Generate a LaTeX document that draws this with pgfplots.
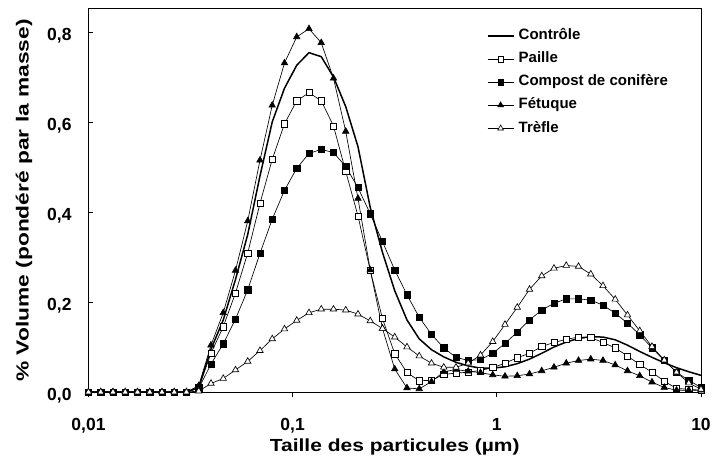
\documentclass[border=0pt]{standalone}
\usepackage{fontspec}
\setmainfont{Liberation Sans}
\usepackage{pgfplots}
\usepackage{pgfplotstable}
\pgfplotsset{compat=1.18}

% distribution granulometrique, % volume par classe de taille
\pgfplotstableread{
x        ctrl  paille compost fetuque trefle
0.01     0     0      0       0       0
0.011482 0     0      0       0       0
0.013183 0     0      0       0       0
0.015136 0     0      0       0       0
0.017378 0     0      0       0       0
0.019953 0     0      0       0       0
0.022909 0     0      0       0       0
0.026303 0     0      0       0       0
0.030200 0     0      0       0       0
0.034674 0.010 0.010  0.008   0.014   0.002
0.039811 0.095 0.086  0.062   0.104   0.019
0.045709 0.160 0.145  0.107   0.176   0.030
0.052481 0.250 0.220  0.162   0.270   0.049
0.060256 0.350 0.309  0.227   0.380   0.068
0.069183 0.480 0.419  0.308   0.515   0.092
0.079433 0.600 0.517  0.384   0.637   0.118
0.091201 0.675 0.596  0.448   0.731   0.140
0.10471  0.726 0.647  0.497   0.789   0.159
0.12023  0.754 0.665  0.530   0.807   0.176
0.13804  0.745 0.647  0.539   0.776   0.184
0.15849  0.700 0.591  0.532   0.697   0.184
0.18197  0.634 0.490  0.501   0.579   0.182
0.20893  0.545 0.391  0.454   0.430   0.173
0.23988  0.410 0.270  0.396   0.271   0.158
0.27542  0.310 0.163  0.334   0.141   0.141
0.31623  0.225 0.085  0.271   0.051   0.122
0.36308  0.160 0.043  0.216   0.009   0.100
0.41687  0.118 0.025  0.166   0.007   0.080
0.47863  0.094 0.026  0.128   0.023   0.064
0.54954  0.078 0.039  0.098   0.045   0.055
0.63096  0.066 0.042  0.077   0.050   0.055
0.72444  0.058 0.044  0.070   0.046   0.064
0.83176  0.053 0.048  0.072   0.043   0.082
0.95499  0.053 0.054  0.086   0.038   0.112
1.0965   0.056 0.064  0.108   0.035   0.150
1.2589   0.063 0.076  0.133   0.036   0.188
1.4454   0.073 0.086  0.160   0.040   0.228
1.6596   0.086 0.101  0.182   0.047   0.258
1.9055   0.100 0.110  0.197   0.055   0.275
2.1878   0.111 0.117  0.207   0.064   0.281
2.5119   0.119 0.122  0.207   0.070   0.279
2.8840   0.123 0.121  0.204   0.073   0.262
3.3113   0.122 0.110  0.193   0.070   0.236
3.8019   0.116 0.098  0.175   0.060   0.206
4.3652   0.104 0.080  0.153   0.047   0.171
5.0119   0.090 0.061  0.127   0.036   0.136
5.7544   0.077 0.044  0.098   0.022   0.101
6.6069   0.065 0.024  0.070   0.010   0.071
7.5858   0.054 0.008  0.044   0.004   0.044
8.7096   0.045 0.006  0.026   0.004   0.020
10       0.037 0.004  0.010   0.004   0.006
}\granulo

\tikzset{
  thinser/.style={black, line width=0.65bp, mark options={line width=0.65bp}}
}

\begin{document}
\begin{tikzpicture}
  \path[use as bounding box] (-88.5bp,-67bp) rectangle (623.5bp,392bp);
  \begin{axis}[
    scale only axis,
    width=612.5bp, height=383bp,
    at={(0,0)}, anchor=south west,
    xmode=log, xmin=0.01, xmax=10,
    ymin=0, ymax=0.851,
    xtick={0.01,0.1,1,10},
    xticklabels={{0,01},{0,1},1,10},
    ytick={0,0.2,0.4,0.6,0.8},
    yticklabels={{0,0},{0,2},{0,4},{0,6},{0,8}},
    xminorticks=false, yminorticks=false,
    xtick pos=left, ytick pos=left,
    major tick length=5bp,
    xtick style={yshift=-5bp, line width=0.8bp, black},
    ytick style={line width=0.8bp, black},
    axis line style={line width=1bp, black},
    tick label style={font=\fontsize{17.5bp}{20bp}\selectfont\bfseries},
    xticklabel style={anchor=base, inner sep=0pt, yshift=-38bp},
    yticklabel style={anchor=base east, inner sep=0pt, xshift=-16.8bp, yshift=-8.7bp},
    label style={font=\fontsize{17.5bp}{20bp}\selectfont\bfseries},
    xlabel={Taille des particules (µm)},
    ylabel={\% Volume (pondéré par la masse)},
    xlabel style={at={(axis description cs:0.5,-0.1559)}, anchor=base, inner sep=0pt, xscale=1.2},
    ylabel style={at={(axis description cs:-0.1053,0.5)}, anchor=center, inner sep=0pt, xscale=1.3},
    clip=false,
    legend cell align=left,
    legend style={
      at={(0.6501,0.9504)}, anchor=north west,
      draw=none, fill=none, inner sep=0pt,
      row sep=7.6bp, column sep=4.3bp,
      font=\fontsize{15bp}{17bp}\selectfont\bfseries,
      nodes={inner sep=0pt, text height=11.5bp, text depth=4bp}
    },
    legend image code/.code={
      \draw[mark repeat=2, mark phase=2] plot coordinates {(0bp,0bp) (13bp,0bp) (26bp,0bp)};
    },
    every legend image post/.style={every mark/.append style={scale=0.9}}
  ]
    \addplot[black, line width=1.5bp] table[x=x, y=ctrl] {\granulo};
    \addplot[thinser, mark=square*, mark size=3.1bp, mark options={fill=white}] table[x=x, y=paille] {\granulo};
    \addplot[thinser, mark=square*, mark size=3.1bp, mark options={fill=black}] table[x=x, y=compost] {\granulo};
    \addplot[thinser, mark=triangle*, mark size=3.7bp, mark options={fill=black}] table[x=x, y=fetuque] {\granulo};
    \addplot[thinser, mark=triangle*, mark size=3.7bp, mark options={fill=white}] table[x=x, y=trefle] {\granulo};
    \legend{Contrôle, Paille, Compost de conifère, Fétuque, Trèfle}
  \end{axis}
\end{tikzpicture}
\end{document}
